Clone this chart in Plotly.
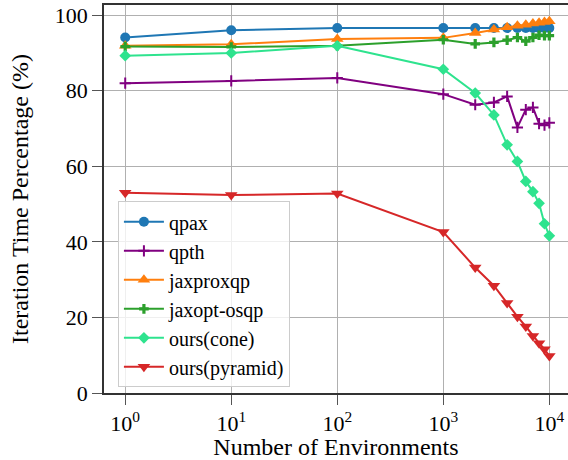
import plotly.graph_objects as go

envs = [1, 10, 100, 1000, 2000, 3000, 4000, 5000, 6000, 7000, 8000, 9000, 10000]

qpax = [94.1, 96.0, 96.6, 96.6, 96.6, 96.6, 96.6, 96.6, 96.6, 96.6, 96.6, 96.6, 96.6]
qpth = [82.0, 82.6, 83.4, 79.1, 76.3, 76.9, 78.5, 70.3, 75.0, 75.6, 71.3, 70.9, 71.5]
jaxproxqp = [91.9, 92.3, 93.7, 94.0, 95.3, 96.2, 96.8, 97.2, 97.5, 97.8, 98.0, 98.2, 98.4]
jaxopt_osqp = [91.7, 91.6, 91.9, 93.5, 92.4, 92.8, 93.4, 94.1, 93.1, 94.1, 94.7, 94.6, 94.6]
ours_cone = [89.3, 90.0, 91.9, 85.7, 79.4, 73.6, 65.7, 61.3, 56.0, 53.3, 50.2, 44.8, 41.6]
ours_pyramid = [53.0, 52.4, 52.8, 42.6, 33.2, 28.4, 23.8, 20.2, 17.6, 15.1, 13.2, 11.6, 9.8]

series = [
    ("qpax", qpax, "#1f77b4", "circle", 10),
    ("qpth", qpth, "#800080", "cross-thin", 8),
    ("jaxproxqp", jaxproxqp, "#ff7f0e", "triangle-up", 11),
    ("jaxopt-osqp", jaxopt_osqp, "#2ca02c", "cross", 8),
    ("ours(cone)", ours_cone, "#2ee38e", "diamond", 9),
    ("ours(pyramid)", ours_pyramid, "#d62728", "triangle-down", 11),
]

fig = go.Figure()
for name, vals, color, sym, sz in series:
    fig.add_trace(go.Scatter(
        x=envs, y=vals, name=name, mode="lines+markers",
        line=dict(color=color, width=2),
        marker=dict(symbol=sym, size=sz, color=color,
                    line=dict(color=color, width=2 if sym == "cross-thin" else 0)),
    ))

font_family = "Liberation Serif, Times New Roman, serif"
fig.update_layout(
    width=568, height=460,
    margin=dict(l=104, r=0, t=5, b=67),
    paper_bgcolor="white", plot_bgcolor="white",
    font=dict(family=font_family, color="black", size=22),
    legend=dict(
        x=0.03, y=0.494, xanchor="left", yanchor="top",
        bgcolor="rgba(255,255,255,0.8)", bordercolor="#cccccc", borderwidth=1,
        font=dict(size=20, family=font_family), itemwidth=40,
        tracegroupgap=0,
    ),
    showlegend=True,
)
fig.update_xaxes(
    type="log", range=[-0.2, 4.176],
    tickvals=[1, 10, 100, 1000, 10000],
    ticktext=["10<sup>0</sup>", "10<sup>1</sup>", "10<sup>2</sup>", "10<sup>3</sup>", "10<sup>4</sup>"],
    showgrid=True, gridcolor="#b0b0b0", gridwidth=1,
    showline=True, linecolor="#333333", linewidth=1.5, mirror=True,
    ticks="outside", ticklen=10, tickcolor="#555555",
    title=dict(text="Number of Environments", font=dict(size=24), standoff=2),
    tickfont=dict(size=22), zeroline=False,
)
fig.update_yaxes(
    range=[0, 102.7],
    tickvals=[0, 20, 40, 60, 80, 100],
    showgrid=True, gridcolor="#b0b0b0", gridwidth=1,
    showline=True, linecolor="#333333", linewidth=1.5, mirror=False,
    ticks="outside", ticklen=10, tickcolor="#555555",
    title=dict(text="Iteration Time Percentage (%)", font=dict(size=24), standoff=19),
    tickfont=dict(size=22), zeroline=False,
)

fig.write_html("out.html")
